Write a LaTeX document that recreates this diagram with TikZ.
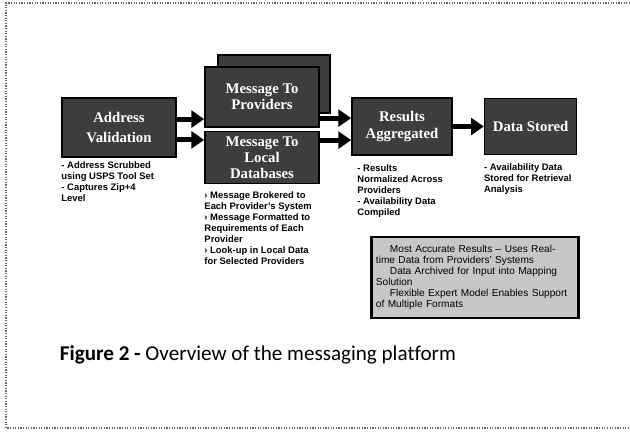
\documentclass[tikz,border=0pt]{standalone}
\usepackage{fontspec}
\usepackage{tikz}
\usetikzlibrary{positioning, arrows.meta}
\setmainfont{Liberation Sans}
\newfontfamily\boxfamily{Liberation Serif}
\newfontfamily\capfamily[Ligatures=CommonOff]{Carlito}
\newcommand{\blockfont}{\boxfamily\bfseries\fontsize{10.5}{11.5}\selectfont}
\newcommand{\notefont}{\bfseries\fontsize{6.7}{7.8}\selectfont}
\newcommand{\panelfont}{\fontsize{7.2}{7.9}\selectfont}
\newcommand{\capfont}{\capfamily\fontsize{15}{18}\selectfont}

\begin{document}
\begin{tikzpicture}[x=0.025cm, y=-0.025cm,
    block/.style={draw=black, line width=0.04cm, fill=black!76, text=white, font=\blockfont, align=center, inner sep=0pt},
    note/.style={font=\notefont, align=left, inner sep=0pt},
    flow/.style={line width=0.125cm, -{Triangle[length=0.32cm, width=0.42cm]}},
    frame/.style={densely dotted, draw=black!60, line width=0.03cm}]
    \useasboundingbox (0,0) rectangle (630,432);
    \draw[frame] (630,3) -- (6,3) -- (6,428) -- (630,428);

    \node[block, minimum width=2.85cm, minimum height=1.475cm] (addr) at (119,127.5) {Address\\[0.12cm]Validation};
    \node[block, minimum width=2.8cm, minimum height=1.45cm] (provback) at (274,84) {};
    \node[block, minimum width=2.85cm, minimum height=1.5cm] (prov) at (262,97) {Message To\\Providers};
    \node[block, minimum width=2.85cm, minimum height=1.3cm] (local) [below=0.075cm of prov] {Message To\\Local\\Databases};
    \node[block, minimum width=2.5cm, minimum height=1.425cm] (results) at (402,126.5) {Results\\Aggregated};
    \node[block, minimum width=2.3cm, minimum height=1.4cm] (data) [right=0.775cm of results] {Data Stored};

    \coordinate (a1) at ([yshift=0.21cm]addr.east);
    \coordinate (a2) at ([yshift=-0.31cm]addr.east);
    \coordinate (r1) at ([yshift=0.21cm]results.west);
    \coordinate (r2) at ([yshift=-0.34cm]results.west);
    \draw[flow] (a1) -- (a1 -| prov.west);
    \draw[flow] (a2) -- (a2 -| local.west);
    \draw[flow] (r1 -| prov.east) -- (r1);
    \draw[flow] (r2 -| local.east) -- (r2);
    \draw[flow] (results.east) -- (results.east -| data.west);

    \node[note] (addrnote) [below=0.1cm of addr.south west, anchor=north west] {- Address Scrubbed\\using USPS Tool Set\\- Captures Zip+4\\Level};
    \node[note] (localnote) [below=0.17cm of local.south west, anchor=north west] {› Message Brokered to\\Each Provider's System\\› Message Formatted to\\Requirements of Each\\Provider\\› Look-up in Local Data\\for Selected Providers};
    \node[note] (resultsnote) [below=0.22cm of results.south west, anchor=north west, xshift=0.15cm] {- Results\\Normalized Across\\Providers\\- Availability Data\\Compiled};
    \node[note] (datanote) [below=0.2cm of data.south west, anchor=north west] {- Availability Data\\Stored for Retrieval\\Analysis};

    \node[draw=black, line width=0.07cm, fill=black!22, font=\panelfont, align=left, minimum width=5.15cm, minimum height=2.025cm, text width=4.95cm] (panel) at (475,277.5) {\hspace*{0.35cm}Most Accurate Results -- Uses Real-\\time Data from Providers' Systems\\\hspace*{0.35cm}Data Archived for Input into Mapping\\Solution\\\hspace*{0.35cm}Flexible Expert Model Enables Support\\of Multiple Formats};

    \node[anchor=base west, font=\capfont] (caption) at (55,360) {\textbf{Figure 2 -} Overview of the messaging platform};
\end{tikzpicture}
\end{document}
